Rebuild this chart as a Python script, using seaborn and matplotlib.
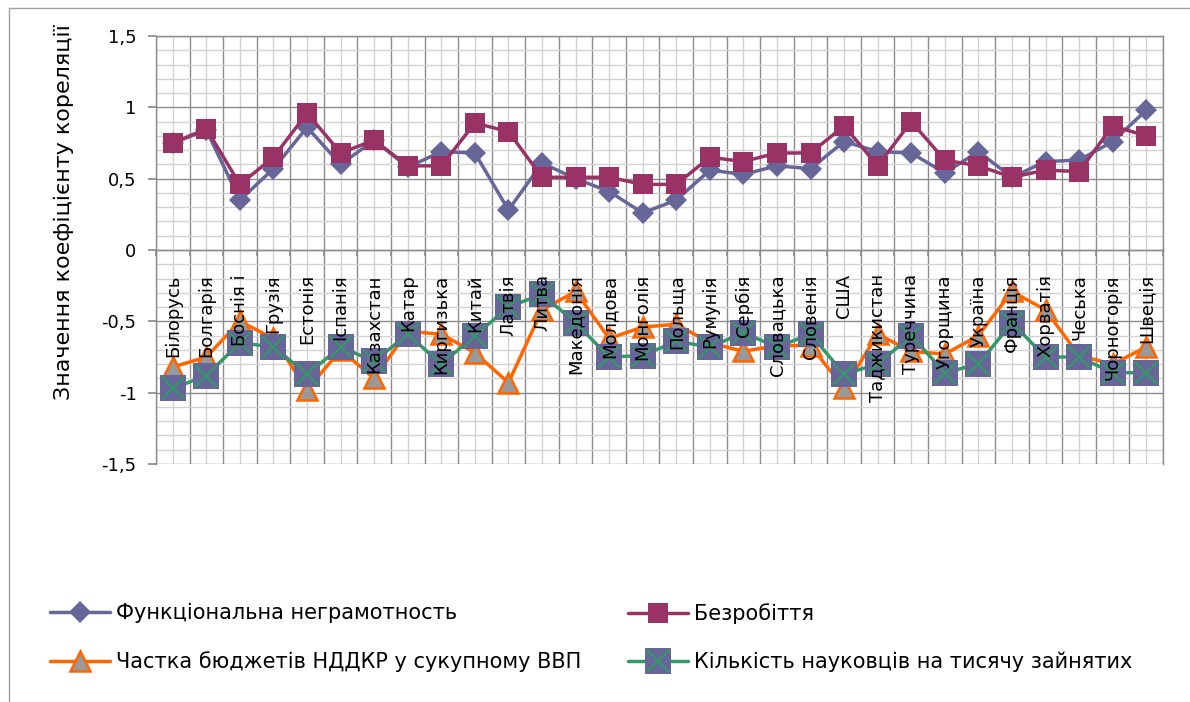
import numpy as np
import pandas as pd
import matplotlib.pyplot as plt
from matplotlib.lines import Line2D
from matplotlib.legend_handler import HandlerTuple
import seaborn as sns

# Country names (as shown on the chart)
countries = ['Білорусь', 'Болгарія', 'Боснія і', 'Грузія', 'Естонія', 'Іспанія',
             'Казахстан', 'Катар', 'Киргизька', 'Китай', 'Латвія', 'Литва',
             'Македонія', 'Молдова', 'Монголія', 'Польща', 'Румунія', 'Сербія',
             'Словацька', 'Словенія', 'США', 'Таджикистан', 'Туреччина', 'Угорщина',
             'Україна', 'Франція', 'Хорватія', 'Чеська', 'Чорногорія', 'Швеція']

# Correlation coefficients
illiteracy = [0.75, 0.84, 0.35, 0.57, 0.86, 0.60, 0.77, 0.58, 0.69, 0.68,
              0.28, 0.61, 0.50, 0.41, 0.26, 0.35, 0.56, 0.53, 0.59, 0.57,
              0.76, 0.69, 0.68, 0.54, 0.69, 0.51, 0.62, 0.63, 0.76, 0.98]
unemployment = [0.75, 0.85, 0.46, 0.65, 0.96, 0.68, 0.77, 0.59, 0.59, 0.89,
                0.83, 0.51, 0.51, 0.51, 0.46, 0.46, 0.65, 0.62, 0.68, 0.68,
                0.87, 0.59, 0.90, 0.63, 0.59, 0.51, 0.56, 0.55, 0.87, 0.80]
rnd_share = [-0.82, -0.75, -0.50, -0.62, -0.98, -0.70, -0.90, -0.57, -0.59, -0.72,
             -0.93, -0.42, -0.29, -0.62, -0.54, -0.52, -0.65, -0.71, -0.67, -0.67,
             -0.97, -0.59, -0.71, -0.73, -0.60, -0.29, -0.42, -0.74, -0.80, -0.68]
researchers = [-0.97, -0.88, -0.65, -0.68, -0.87, -0.68, -0.78, -0.59, -0.80, -0.60,
               -0.40, -0.31, -0.51, -0.75, -0.74, -0.64, -0.68, -0.58, -0.68, -0.59,
               -0.87, -0.80, -0.60, -0.86, -0.80, -0.51, -0.75, -0.75, -0.86, -0.86]

series_names = ['Функціональна неграмотность', 'Безробіття',
                'Частка бюджетів НДДКР у сукупному ВВП',
                'Кількість науковців на тисячу зайнятих']

sns.set_theme(style='white')
plt.rcParams['font.family'] = ['DejaVu Sans']
plt.rcParams['text.color'] = 'black'

df = pd.DataFrame({'pos': np.arange(len(countries)),
                   'country': countries,
                   'illiteracy': illiteracy,
                   'unemployment': unemployment,
                   'rnd_share': rnd_share,
                   'researchers': researchers})

fig = plt.figure(figsize=(11.9, 7.02), dpi=100)
ax = fig.add_axes([0.1311, 0.339, 0.8462, 0.6097])

# series styles
st1 = dict(color='#666699', lw=2.5, marker='D', ms=11, mfc='#666699', mec='#666699', mew=0)
st2 = dict(color='#993366', lw=2.5, marker='s', ms=15, mfc='#993366', mec='#993366', mew=0)
st3 = dict(color='#FF6600', lw=2.5, marker='^', ms=14, mfc='#999999', mec='#FF6600', mew=1.8)
st4 = dict(color='#339966', lw=2.5, marker='s', ms=19, mfc='#666699', mec='#666699', mew=0)
stx = dict(ls='none', marker='x', ms=16, mec='#339966', mew=1.5)

sns.lineplot(data=df, x='pos', y='illiteracy', ax=ax, zorder=2.1, **st1)
sns.lineplot(data=df, x='pos', y='unemployment', ax=ax, zorder=2.2, **st2)
sns.lineplot(data=df, x='pos', y='rnd_share', ax=ax, zorder=2.3, **st3)
sns.lineplot(data=df, x='pos', y='researchers', ax=ax, zorder=2.4, **st4)
sns.lineplot(data=df, x='pos', y='researchers', ax=ax, zorder=2.5, **stx)

# category labels inside the plot, below the zero line
for i, name in enumerate(countries):
    ax.text(i, -0.17, name, rotation=90, ha='center', va='top',
            fontsize=13, color='black', zorder=3)

ax.set_xlim(-0.5, len(countries) - 0.5)
ax.set_ylim(-1.5, 1.5)
ax.set_xticks(np.arange(-0.5, len(countries), 1))
ax.set_xticks(np.arange(0, len(countries)), minor=True)
yt = np.round(np.arange(-1.5, 1.51, 0.5), 1)
ax.set_yticks(yt)
ym = [v for v in np.round(np.arange(-1.5, 1.51, 0.1), 1) if abs(v * 2 - round(v * 2)) > 1e-6]
ax.set_yticks(ym, minor=True)
ax.set_yticklabels([f'{v:g}'.replace('.', ',') for v in yt])

ax.grid(which='major', color='#8c8c8c', lw=1)
ax.grid(which='minor', color='#d2d2d2', lw=1)
ax.set_axisbelow(True)

ax.tick_params(axis='x', which='major', bottom=True, labelbottom=False,
               direction='out', length=4, color='#8c8c8c')
ax.tick_params(axis='x', which='minor', bottom=False, labelbottom=False)
ax.tick_params(axis='y', which='major', left=True, direction='out', length=6,
               color='#8c8c8c', labelsize=13, pad=8, labelcolor='black')
ax.tick_params(axis='y', which='minor', left=False)

for sp in ax.spines.values():
    sp.set_color('#8c8c8c')
    sp.set_linewidth(1)
ax.spines['bottom'].set_position(('data', 0))
ax.set_xlabel('')
ax.set_ylabel('')

fig.text(64 / 1190, 1 - 212 / 702, 'Значення коефіцієнту кореляції', rotation=90,
         ha='center', va='center', fontsize=16, color='black')

# legend
h1 = Line2D([], [], **st1)
h2 = Line2D([], [], **st2)
h3 = Line2D([], [], **st3)
h4 = (Line2D([], [], **st4), Line2D([], [], **stx))
leg_kw = dict(loc='upper left', frameon=False, fontsize=15, handlelength=2.9,
              handletextpad=0.25, labelspacing=1.35, borderpad=0, borderaxespad=0,
              labelcolor='black',
              handler_map={tuple: HandlerTuple(ndivide=1, pad=0)})
fig.legend([h1, h3], [series_names[0], series_names[2]],
           bbox_to_anchor=(50 / 1190, 1 - 603 / 702), **leg_kw)
fig.legend([h2, h4], [series_names[1], series_names[3]],
           bbox_to_anchor=(628 / 1190, 1 - 603 / 702), **leg_kw)

# outer chart border
fig.add_artist(Line2D([9 / 1190, 9 / 1190], [0, 1 - 8 / 702], color='#a0a0a0', lw=1))
fig.add_artist(Line2D([9 / 1190, 1], [1 - 8 / 702, 1 - 8 / 702], color='#a0a0a0', lw=1))

fig.savefig('out.png', dpi=100)
